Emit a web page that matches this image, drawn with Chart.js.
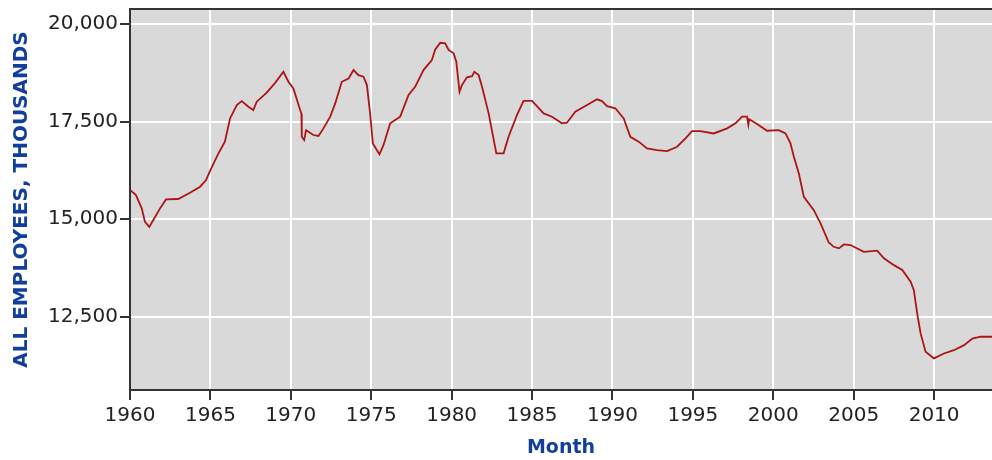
<!DOCTYPE html>
<html>
<head>
<meta charset="utf-8">
<script src="https://cdn.jsdelivr.net/npm/chart.js@4/dist/chart.umd.min.js"></script>
<style>
  html, body { margin: 0; padding: 0; background: #fff; }
  #wrap { width: 992px; height: 460px; }
</style>
</head>
<body>
<div id="wrap"><canvas id="empChart" width="992" height="460"></canvas></div>
<script>
// Monthly series (decimal year, thousands of employees)
const years = [
  1960.0, 1960.37, 1960.73, 1960.93, 1961.2, 1961.45, 1961.87, 1962.24, 1963.0, 1963.73,
  1964.36, 1964.73, 1965.0, 1965.5, 1965.9, 1966.22, 1966.64, 1966.95, 1967.36, 1967.67,
  1967.88, 1968.5, 1969.0, 1969.54, 1969.85, 1970.16, 1970.58, 1970.66, 1970.68, 1970.83,
  1970.95, 1971.4, 1971.72, 1972.03, 1972.45, 1972.76, 1973.17, 1973.59, 1973.9, 1974.2,
  1974.52, 1974.73, 1974.93, 1975.1, 1975.51, 1975.76, 1976.18, 1976.49, 1976.8, 1977.32,
  1977.73, 1978.25, 1978.77, 1978.98, 1979.29, 1979.6, 1979.81, 1980.12, 1980.29, 1980.49,
  1980.64, 1980.95, 1981.27, 1981.41, 1981.68, 1981.89, 1982.3, 1982.78, 1983.23, 1983.54,
  1984.06, 1984.47, 1985.0, 1985.72, 1986.24, 1986.86, 1987.17, 1987.69, 1988.42, 1989.04,
  1989.35, 1989.66, 1990.18, 1990.7, 1991.11, 1991.63, 1992.15, 1992.77, 1993.4, 1994.02,
  1994.54, 1994.95, 1995.47, 1996.3, 1997.13, 1997.65, 1998.06, 1998.37, 1998.45, 1998.5,
  1998.99, 1999.61, 2000.34, 2000.76, 2001.07, 2001.28, 2001.59, 2001.9, 2002.52, 2002.94,
  2003.45, 2003.76, 2004.08, 2004.39, 2004.8, 2005.63, 2006.46, 2006.88, 2007.5, 2008.02,
  2008.54, 2008.74, 2008.95, 2009.16, 2009.47, 2009.99, 2010.61, 2011.23, 2011.86, 2012.38,
  2012.89, 2013.6
];
const employees = [
  15750, 15615, 15275, 14930, 14800, 14975, 15275, 15505, 15515, 15675,
  15830, 16000, 16255, 16685, 16985, 17580, 17925, 18025, 17880, 17795,
  18010, 18240, 18480, 18775, 18520, 18350, 17795, 17700, 17110, 17025,
  17280, 17155, 17130, 17325, 17625, 17965, 18520, 18605, 18820, 18690,
  18650, 18435, 17710, 16940, 16660, 16895, 17455, 17540, 17625, 18180,
  18390, 18820, 19075, 19350, 19520, 19505, 19335, 19250, 19035, 18265,
  18435, 18635, 18665, 18775, 18690, 18390, 17710, 16685, 16685, 17110,
  17665, 18030, 18030, 17710, 17625, 17455, 17470, 17750, 17925, 18070,
  18025, 17895, 17840, 17580, 17110, 16985, 16810, 16770, 16745, 16855,
  17070, 17255, 17255, 17195, 17325, 17455, 17625, 17625, 17420, 17560,
  17435, 17265, 17280, 17195, 16940, 16600, 16170, 15570, 15230, 14890,
  14400, 14290, 14250, 14350, 14335, 14160, 14190, 13995, 13820, 13695,
  13395, 13180, 12580, 12070, 11600, 11430, 11555, 11640, 11770, 11940,
  11985, 11985
];
const xTicks = [1960, 1965, 1970, 1975, 1980, 1985, 1990, 1995, 2000, 2005, 2010];
const yTicks = [12500, 15000, 17500, 20000];

const blue = '#123f9e';
const axisColor = '#333333';

const plotBackground = {
  id: 'plotBackground',
  beforeDraw(chart) {
    const { ctx, chartArea: a } = chart;
    ctx.save();
    ctx.fillStyle = '#d9d9d9';
    ctx.fillRect(a.left, a.top, a.right - a.left, a.bottom - a.top);
    ctx.restore();
  },
  afterDraw(chart) {
    const { ctx, chartArea: a } = chart;
    ctx.save();
    ctx.strokeStyle = axisColor;
    ctx.lineWidth = 2;
    ctx.beginPath();
    ctx.moveTo(a.left - 1, a.top);
    ctx.lineTo(a.right, a.top);
    ctx.stroke();
    ctx.restore();
  }
};

const ctx = document.getElementById('empChart').getContext('2d');
new Chart(ctx, {
  type: 'line',
  data: {
    datasets: [{
      data: years.map((y, i) => ({ x: y, y: employees[i] })),
      borderColor: '#ad1414',
      borderWidth: 1.8,
      pointRadius: 0,
      tension: 0,
      fill: false
    }]
  },
  options: {
    responsive: false,
    animation: false,
    layout: { padding: { top: 9, right: 0, bottom: 0, left: 0 } },
    plugins: { legend: { display: false }, tooltip: { enabled: false } },
    scales: {
      x: {
        type: 'linear',
        min: 1960,
        max: 2013.6,
        afterBuildTicks: s => { s.ticks = xTicks.map(v => ({ value: v })); },
        afterFit: s => { s.height = 70; s.paddingLeft = 0; s.paddingRight = 0; },
        grid: { color: '#ffffff', lineWidth: 2, tickColor: axisColor, tickLength: 10, tickWidth: 2 },
        border: { display: true, color: axisColor, width: 2 },
        ticks: {
          padding: 4,
          maxRotation: 0,
          color: '#222',
          font: { family: 'DejaVu Sans', size: 20 },
          callback: v => String(v)
        },
        title: {
          display: true,
          text: 'Month',
          color: blue,
          font: { family: 'DejaVu Sans', size: 19, weight: 'bold' },
          padding: { top: 0, bottom: 1 }
        }
      },
      y: {
        min: 10620,
        max: 20385,
        afterBuildTicks: s => { s.ticks = yTicks.map(v => ({ value: v })); },
        afterFit: s => { s.width = 130; s.paddingTop = 0; s.paddingBottom = 0; },
        grid: { color: '#ffffff', lineWidth: 2, tickColor: axisColor, tickLength: 10, tickWidth: 2 },
        border: { display: true, color: axisColor, width: 2 },
        ticks: {
          padding: 2,
          color: '#222',
          font: { family: 'DejaVu Sans', size: 20 },
          callback: v => v.toLocaleString('en-US')
        },
        title: {
          display: true,
          text: 'ALL EMPLOYEES, THOUSANDS',
          color: blue,
          font: { family: 'DejaVu Sans', size: 20, weight: 'bold' },
          padding: { top: 10, bottom: 0 }
        }
      }
    }
  },
  plugins: [plotBackground]
});
</script>
</body>
</html>
